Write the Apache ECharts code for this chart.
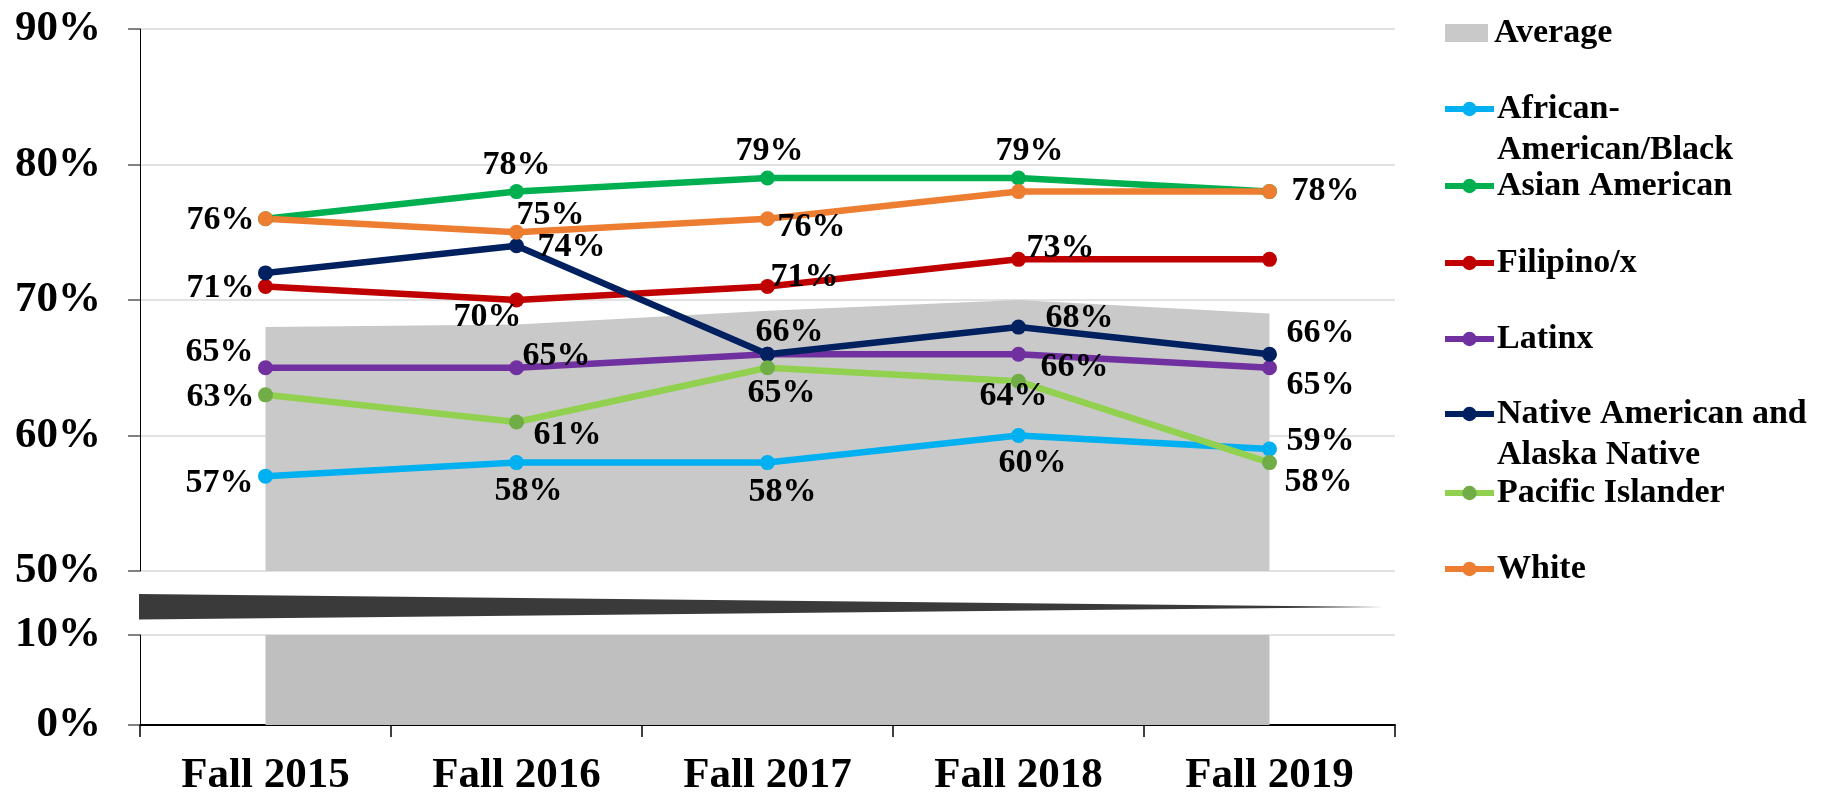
<!DOCTYPE html>
<html><head><meta charset="utf-8">
<script src="https://cdn.jsdelivr.net/npm/echarts@6/dist/echarts.min.js"></script>
<style>html,body{margin:0;padding:0;background:#fff}#c{width:1832px;height:797px}</style>
</head><body><div id="c"></div>
<script>
// ---------- data ----------
const categories = ['Fall 2015', 'Fall 2016', 'Fall 2017', 'Fall 2018', 'Fall 2019'];
const average = [68, 68.2, 69.2, 70, 69];
const africanAmericanBlack = [57, 58, 58, 60, 59];
const asianAmerican = [76, 78, 79, 79, 78];
const filipinoX = [71, 70, 71, 73, 73];
const latinx = [65, 65, 66, 66, 65];
const nativeAmerican = [72, 74, 66, 68, 66];
const pacificIslander = [63, 61, 65, 64, 58];
const white = [76, 75, 76, 78, 78];
const upperTicks = { min: 50, max: 90, interval: 10 };
const lowerTicks = { min: 0, max: 10, interval: 10 };

// ---------- styling / label placement (offsets of label centre from point, null = hidden) ----------
const FONT = '"Liberation Serif", "Times New Roman", serif';
const lineDefs = [
  { name: 'African-American/Black', data: africanAmericanBlack, line: '#00B0F0', mark: '#00B0F0',
    labels: [[-46, 7], [12, 29], [15, 30], [14, 28], [51, -8]] },
  { name: 'Asian American', data: asianAmerican, line: '#00B050', mark: '#00B050',
    labels: [null, [0, -26], [2, -27], [11, -27], null] },
  { name: 'Filipino/x', data: filipinoX, line: '#C00000', mark: '#C00000',
    labels: [[-45, 2], [-29, 17], [37, -9], [42, -11], null] },
  { name: 'Latinx', data: latinx, line: '#7030A0', mark: '#7030A0',
    labels: [[-46, -16], [40, -12], null, [56, 13], [51, 17]] },
  { name: 'Native American and Alaska Native', data: nativeAmerican, line: '#002060', mark: '#002060',
    labels: [null, [55, 1], [22, -22], [61, -9], [51, -21]] },
  { name: 'Pacific Islander', data: pacificIslander, line: '#92D050', mark: '#70AD47',
    labels: [[-45, 2], [51, 13], [14, 25], [-5, 15], [49, 20]] },
  { name: 'White', data: white, line: '#ED7D31', mark: '#ED7D31',
    labels: [[-45, 2], [34, -17], [44, 9], null, [56, 0]] }
];
const legendRows = [
  { name: 'Average', cy: 33, text: 'Average' },
  { name: 'African-American/Black', cy: 109, text: '\nAfrican-\nAmerican/Black' },
  { name: 'Asian American', cy: 186, text: 'Asian American' },
  { name: 'Filipino/x', cy: 263, text: 'Filipino/x' },
  { name: 'Latinx', cy: 339, text: 'Latinx' },
  { name: 'Native American and Alaska Native', cy: 414, text: '\nNative American and\nAlaska Native' },
  { name: 'Pacific Islander', cy: 493, text: 'Pacific Islander' },
  { name: 'White', cy: 569, text: 'White' }
];

const G = { left: 140, width: 1255, top1: 29, h1: 542, top2: 635, h2: 91 };
const LH = 41;

const chart = echarts.init(document.getElementById('c'), null, { renderer: 'canvas' });

const yAxisCommon = {
  type: 'value',
  axisLine: { show: true, lineStyle: { color: '#000', width: 1 } },
  axisTick: { show: true, length: 12, lineStyle: { color: '#595959', width: 1.5 } },
  axisLabel: { formatter: '{value}%', fontFamily: FONT, fontSize: 43, fontWeight: 'bold', color: '#000', margin: 39 },
  splitLine: { show: true, lineStyle: { color: '#D9D9D9', width: 1.5 } }
};

const series = [
  { name: 'Average', type: 'line', xAxisIndex: 0, yAxisIndex: 0, data: average, symbol: 'none',
    itemStyle: { color: '#C9C9C9' }, lineStyle: { width: 0, color: '#C9C9C9' },
    areaStyle: { color: '#C9C9C9', opacity: 1, origin: 'start' }, z: 1, silent: true },
  { name: 'Average', type: 'line', xAxisIndex: 1, yAxisIndex: 1, data: average, symbol: 'none',
    itemStyle: { color: '#C9C9C9' }, lineStyle: { width: 0, color: '#BFBFBF' },
    areaStyle: { color: '#BFBFBF', opacity: 1, origin: 'start' }, z: 1, clip: true, silent: true }
];
lineDefs.forEach(d => {
  series.push({
    name: d.name, type: 'line', xAxisIndex: 0, yAxisIndex: 0,
    symbol: 'circle', symbolSize: 15,
    lineStyle: { color: d.line, width: 6.5 },
    itemStyle: { color: d.mark },
    z: 3,
    data: d.data.map((v, i) => {
      const off = d.labels[i];
      return {
        value: v,
        label: off ? { show: true, position: 'inside', offset: off, formatter: v + '%',
          fontFamily: FONT, fontSize: 34, fontWeight: 'bold', color: '#000' } : { show: false }
      };
    })
  });
});

const legends = legendRows.map(r => {
  const lines = r.text.split('\n').length;
  const isAvg = r.name === 'Average';
  const lg = {
    data: [isAvg ? { name: r.name, icon: 'rect' } : r.name],
    orient: 'vertical', padding: 0,
    left: isAvg ? 1445 : 1442,
    top: r.cy - lines * LH / 2,
    itemWidth: isAvg ? 43 : 49,
    itemHeight: isAvg ? 18 : 18,
    selectedMode: false,
    formatter: () => r.text,
    textStyle: { fontFamily: FONT, fontSize: 34, fontWeight: 'bold', color: '#000', lineHeight: LH, padding: [0, 0, 0, isAvg ? 1 : -2] },
    lineStyle: { width: 6 }
  };
  if (isAvg) lg.itemStyle = { color: '#C9C9C9', borderWidth: 0 };
  return lg;
});

const wedgeMidY = 607;
chart.setOption({
  animation: false,
  backgroundColor: '#fff',
  grid: [
    { left: G.left, top: G.top1, width: G.width, height: G.h1 },
    { left: G.left, top: G.top2, width: G.width, height: G.h2 }
  ],
  xAxis: [
    { type: 'category', gridIndex: 0, data: categories, boundaryGap: true,
      axisLine: { show: false }, axisTick: { show: false }, axisLabel: { show: false }, splitLine: { show: false } },
    { type: 'category', gridIndex: 1, data: categories, boundaryGap: true,
      axisLine: { show: true, lineStyle: { color: '#000', width: 2 } },
      axisTick: { show: true, length: 12, lineStyle: { color: '#000', width: 1.5 } },
      axisLabel: { fontFamily: FONT, fontSize: 43, fontWeight: 'bold', color: '#000', margin: 29 },
      splitLine: { show: false } }
  ],
  yAxis: [
    Object.assign({}, yAxisCommon, { gridIndex: 0 }, upperTicks),
    Object.assign({}, yAxisCommon, { gridIndex: 1 }, lowerTicks)
  ],
  legend: legends,
  series: series,
  graphic: [{
    type: 'polygon', z: 10,
    shape: { points: [[G.left - 1, 594], [1383, wedgeMidY], [G.left - 1, 619.5]] },
    style: { fill: '#3A3A3A' }
  }]
});
</script>
</body></html>
